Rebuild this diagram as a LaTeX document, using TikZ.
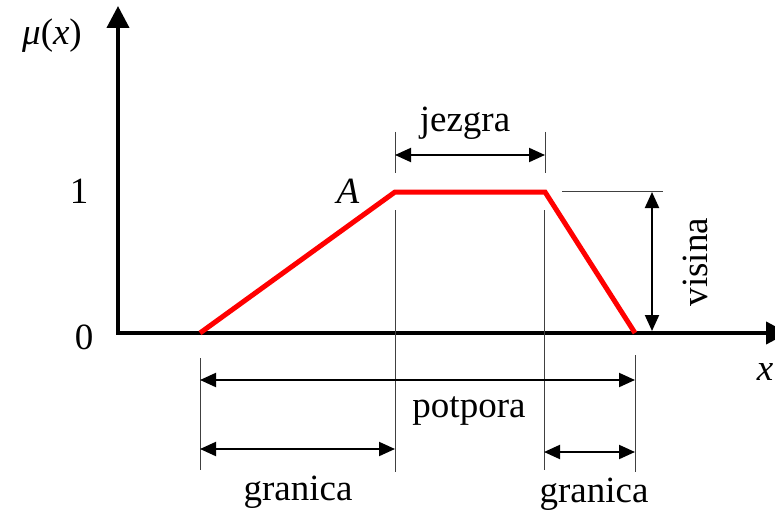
\documentclass[tikz,border=0pt]{standalone}
\usepackage{fontspec}
\setmainfont{Liberation Serif}
\usetikzlibrary{arrows.meta}
\begin{document}
\begin{tikzpicture}[x=1pt,y=-1pt,
  axis/.style={line width=4pt,{Triangle[length=22pt,width=22pt]}-{Triangle[length=22pt,width=22pt]}},
  memb/.style={draw=red,line width=5pt,line join=miter},
  guide/.style={line width=0.9pt,draw=black!75},
  dim/.style={line width=2pt,{Triangle[length=16pt,width=14pt]}-{Triangle[length=16pt,width=14pt]}},
  lbl/.style={inner sep=0pt,anchor=base,font=\fontsize{37}{40}\selectfont}]
\useasboundingbox (0,0) rectangle (775,513);
% key points
\coordinate (ytip) at (118,6);
\coordinate (O) at (118,333);
\coordinate (xtip) at (788,333);
\coordinate (a) at (200,333);
\coordinate (b) at (395,192);
\coordinate (c) at (545,192);
\coordinate (d) at (635,333);
% axes
\draw[axis] (ytip) -- (O) -- (xtip);
% membership function
\draw[memb] (a) -- (b) -- (c) -- (d);
% guide lines
\coordinate (g1t) at (200,358); \coordinate (g1b) at (200,470);
\coordinate (g2t) at (395,132); \coordinate (g2m) at (395,173);
\coordinate (g2u) at (395,210); \coordinate (g2b) at (395,472);
\coordinate (g3t) at (545,132); \coordinate (g3m) at (545,173);
\coordinate (g3u) at (544,210); \coordinate (g3b) at (544,470);
\coordinate (g4t) at (635,355); \coordinate (g4b) at (635,472);
\coordinate (h1) at (562,191); \coordinate (h2) at (663,191);
\draw[guide] (g1t) -- (g1b);
\draw[guide] (g2t) -- (g2m);
\draw[guide] (g2u) -- (g2b);
\draw[guide] (g3t) -- (g3m);
\draw[guide] (g3u) -- (g3b);
\draw[guide] (g4t) -- (g4b);
\draw[guide] (h1) -- (h2);
% dimension arrows
\coordinate (j1) at (395,155); \coordinate (j2) at (545,155);
\coordinate (v1) at (652,192); \coordinate (v2) at (652,331);
\coordinate (p1) at (200,380); \coordinate (p2) at (635,380);
\coordinate (l1) at (200,449); \coordinate (l2) at (395,449);
\coordinate (r1) at (544,452); \coordinate (r2) at (635,452);
\draw[dim] (j1) -- (j2);
\draw[dim] (v1) -- (v2);
\draw[dim] (p1) -- (p2);
\draw[dim] (l1) -- (l2);
\draw[dim] (r1) -- (r2);
% labels
\node[lbl] (mu) at (52,45) {\textit{μ}(\textit{x})};
\node[lbl] (one) at (79,203) {1};
\node[lbl] (zero) at (84,349) {0};
\node[lbl] (A) at (348,203) {\textit{A}};
\node[lbl] (jez) at (465,132) {jezgra};
\node[lbl,rotate=90] (vis) at (707,262) {visina};
\node[lbl] (pot) at (469,417) {potpora};
\node[lbl] (gr1) at (298,500) {granica};
\node[lbl] (gr2) at (594,502) {granica};
\node[lbl] (xl) at (765,380) {\textit{x}};
\end{tikzpicture}
\end{document}
